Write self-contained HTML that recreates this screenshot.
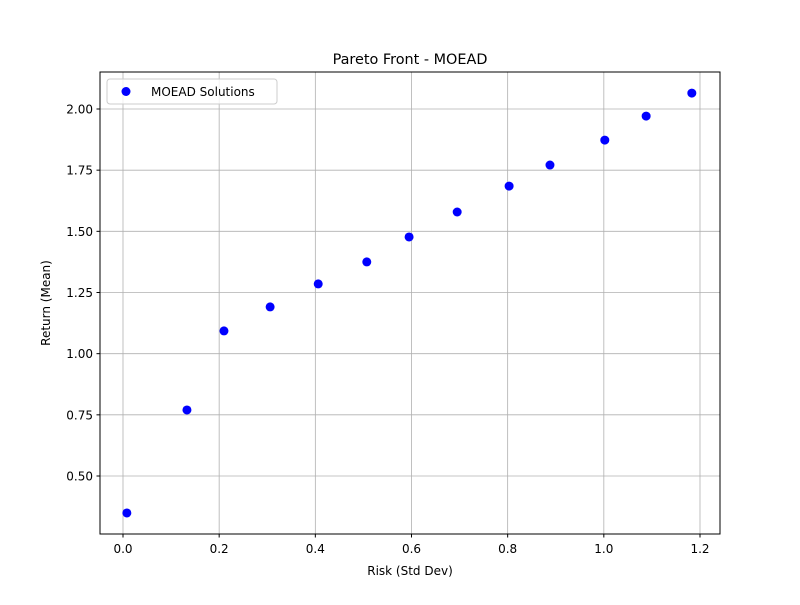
<!DOCTYPE html>
<html><head><meta charset="utf-8"><style>
body{margin:0;background:#fff;}
svg text{font-family:"DejaVu Sans","Liberation Sans",sans-serif;fill:#000;}
</style></head><body>
<svg id="chart" width="800" height="600" xmlns="http://www.w3.org/2000/svg">
<rect width="800" height="600" fill="#fff"/>
<g id="grid"></g>
<g id="pts"></g>
<rect x="100" y="72" width="620" height="462" fill="none" stroke="#000" stroke-width="1"/>
<g id="ticks"></g>
<text x="410" y="64" font-size="14.4" text-anchor="middle">Pareto Front - MOEAD</text>
<text x="410" y="575" font-size="12" text-anchor="middle">Risk (Std Dev)</text>
<text transform="translate(50,303) rotate(-90)" font-size="12" text-anchor="middle">Return (Mean)</text>
<g>
<rect x="107" y="79" width="170" height="25" fill="#fff" fill-opacity="0.8" stroke="#ccc" rx="3"/>
<circle cx="126" cy="91.5" r="4.5" fill="#0000ff"/>
<text x="151" y="96" font-size="12">MOEAD Solutions</text>
</g>
</svg>
<script>
const risk=[0.008,0.133,0.210,0.306,0.406,0.507,0.595,0.695,0.803,0.888,1.002,1.088,1.183];
const ret=[0.349,0.770,1.093,1.191,1.285,1.375,1.477,1.579,1.685,1.771,1.873,1.971,2.065];
const xTicks=[0,0.2,0.4,0.6,0.8,1.0,1.2];
const xTickLabels=["0.0","0.2","0.4","0.6","0.8","1.0","1.2"];
const yTicks=[0.5,0.75,1.0,1.25,1.5,1.75,2.0];
const yTickLabels=["0.50","0.75","1.00","1.25","1.50","1.75","2.00"];
const NS="http://www.w3.org/2000/svg";
function sx(v){return 123+v*480.83;}
function sy(v){return 476-(v-0.5)*244.67;}
function mk(t,a,p){const e=document.createElementNS(NS,t);for(const k in a)e.setAttribute(k,a[k]);p.appendChild(e);return e;}
const grid=document.getElementById('grid'),ticks=document.getElementById('ticks'),pts=document.getElementById('pts');
xTicks.forEach((v,i)=>{const x=sx(v);
 const g=mk('line',{x1:x,x2:x,y1:72,y2:534,stroke:'#b0b0b0','stroke-width':0.8},grid);
 
 
 mk('line',{x1:x,x2:x,y1:534,y2:537.5,stroke:'#000'},ticks);
 const t=mk('text',{x:x,y:553,'font-size':12,'text-anchor':'middle'},ticks);t.textContent=xTickLabels[i];
 
 });
yTicks.forEach((v,i)=>{const y=sy(v);
 const g=mk('line',{x1:100,x2:720,y1:y,y2:y,stroke:'#b0b0b0','stroke-width':0.8},grid);
 
 
 mk('line',{x1:96.5,x2:100,y1:y,y2:y,stroke:'#000'},ticks);
 const t=mk('text',{x:93,y:y+4.5,'font-size':12,'text-anchor':'end'},ticks);t.textContent=yTickLabels[i];
 
 });
risk.forEach((r,i)=>{const c=mk('circle',{cx:sx(r),cy:sy(ret[i]),r:4.5,fill:'#0000ff'},pts);
 
 });
</script>
</body></html>
